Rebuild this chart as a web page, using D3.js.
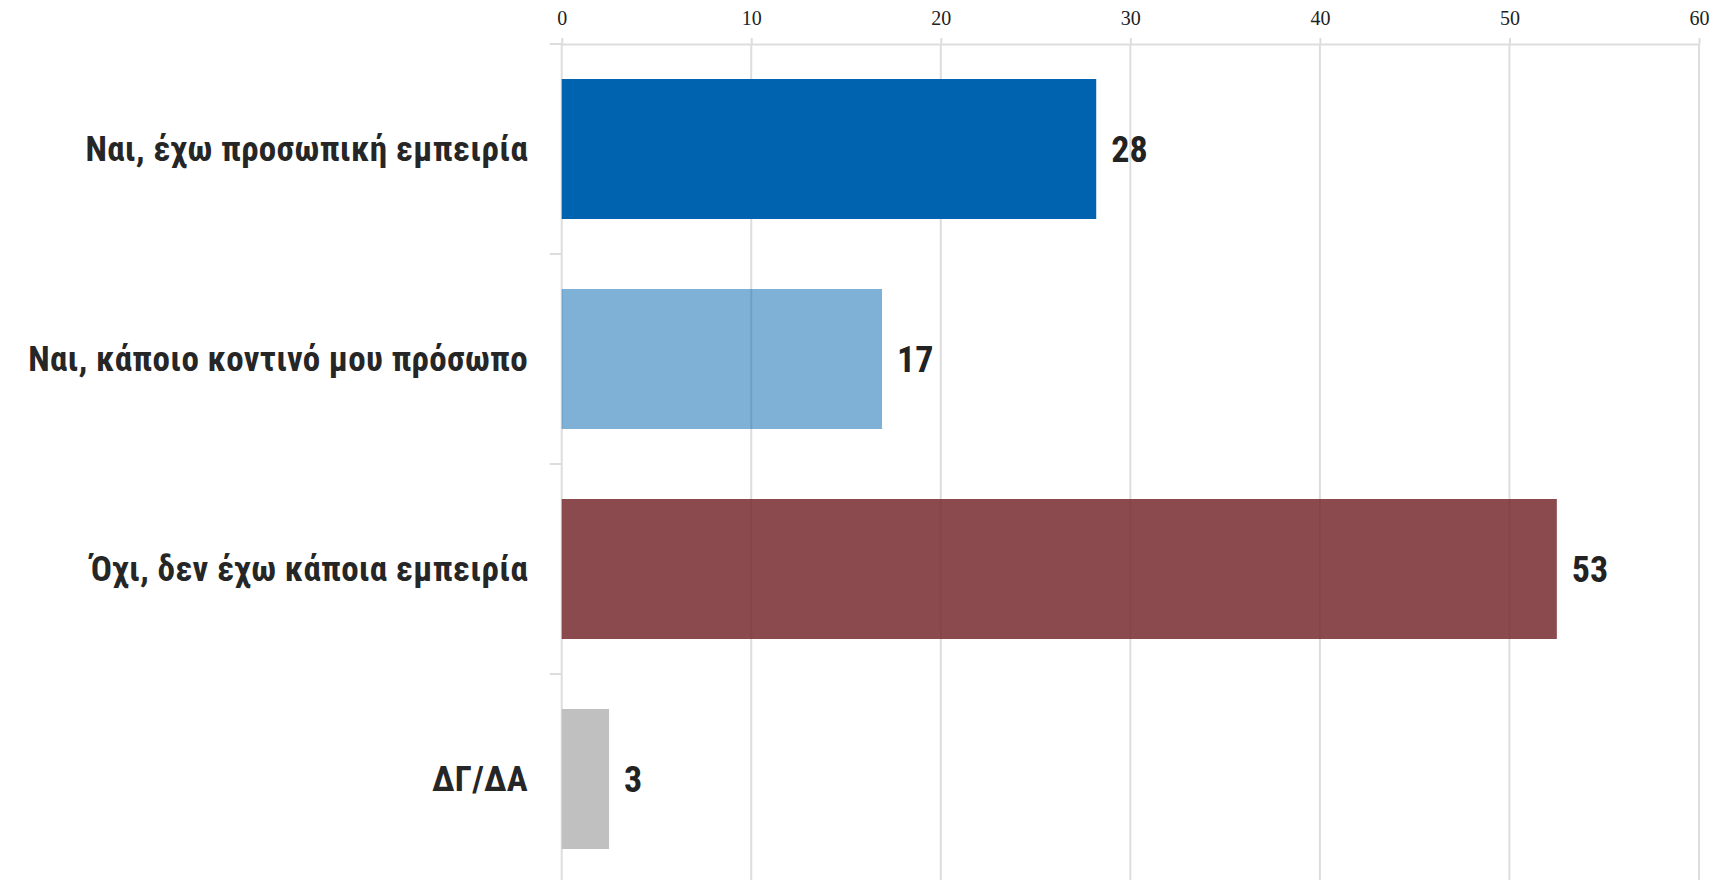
<!DOCTYPE html>
<html>
<head>
<meta charset="utf-8">
<script src="https://cdn.jsdelivr.net/npm/d3@7"></script>
<style>
  html, body { margin: 0; padding: 0; background: #fff; }
  svg { display: block; }
</style>
</head>
<body>
<svg id="chart" width="1716" height="880"></svg>
<script>
const categories = [
  "Ναι, έχω προσωπική εμπειρία",
  "Ναι, κάποιο κοντινό μου πρόσωπο",
  "Όχι, δεν έχω κάποια εμπειρία",
  "ΔΓ/ΔΑ"
];
const values = [28.2, 16.9, 52.5, 2.5];
const barColors = ["#0063af", "#0063af", "#772a2e", "#c0c0c0"];
const barOpacity = [1, 0.5, 0.85, 1];
const xTicks = [0, 10, 20, 30, 40, 50, 60];

(function () {
const svg = d3.select("#chart");
const W = 1716, H = 880;
const mLeft = 561.7, mRight = 1699, mTop = 44;

const x = d3.scaleLinear().domain([0, 60]).range([mLeft, mRight]);
const y = d3.scaleBand().domain(categories).range([mTop, mTop + 840])
  .paddingInner(1/3).paddingOuter(1/6);

const grid = "#dddddd";
const narrow = "'Liberation Sans Narrow', 'Roboto Condensed', 'Arial Narrow', sans-serif";

// gridlines
svg.append("g").selectAll("line").data(xTicks).join("line")
  .attr("x1", d => x(d)).attr("x2", d => x(d))
  .attr("y1", mTop).attr("y2", H)
  .attr("stroke", grid).attr("stroke-width", 2);

// top axis
const ax = d3.axisTop(x).tickValues(xTicks).tickSize(6).tickSizeOuter(0).tickPadding(13);
const gA = svg.append("g").attr("transform", `translate(0,${mTop})`).call(ax);
gA.select(".domain").attr("stroke", grid).attr("stroke-width", 2);
gA.selectAll(".tick line").attr("stroke", grid).attr("stroke-width", 2);
gA.selectAll(".tick text")
  .attr("font-family", "'Liberation Serif', 'DejaVu Serif', serif")
  .attr("font-size", 20).attr("fill", "#222");

// left band ticks at band boundaries
const bounds = categories.map(c => y(c) - y.step() * y.paddingInner() / 2);
svg.append("g").selectAll("line").data(bounds).join("line")
  .attr("x1", mLeft - 12).attr("x2", mLeft)
  .attr("y1", d => d).attr("y2", d => d)
  .attr("stroke", grid).attr("stroke-width", 2);

// bars
svg.append("g").selectAll("rect").data(categories).join("rect")
  .attr("x", x(0))
  .attr("y", d => y(d))
  .attr("width", (d, i) => x(values[i]) - x(0))
  .attr("height", y.bandwidth())
  .attr("fill", (d, i) => barColors[i])
  .attr("fill-opacity", (d, i) => barOpacity[i]);

// value labels
svg.append("g").selectAll("text").data(categories).join("text")
  .attr("x", (d, i) => x(values[i]) + 15)
  .attr("y", d => y(d) + y.bandwidth() / 2)
  .attr("dy", "0.35em")
  .attr("font-family", narrow)
  .attr("font-weight", "bold")
  .attr("font-size", 36)
  .attr("fill", "#222")
  .text((d, i) => Math.round(values[i]));

// category labels
svg.append("g").selectAll("text").data(categories).join("text")
  .attr("x", 528)
  .attr("y", d => y(d) + y.bandwidth() / 2)
  .attr("dy", "0.35em")
  .attr("text-anchor", "end")
  .attr("font-family", narrow)
  .attr("font-weight", "bold")
  .attr("font-size", 35)
  .attr("letter-spacing", 0.3)
  .attr("fill", "#262626")
  .text(d => d);
})();
</script>
</body>
</html>
